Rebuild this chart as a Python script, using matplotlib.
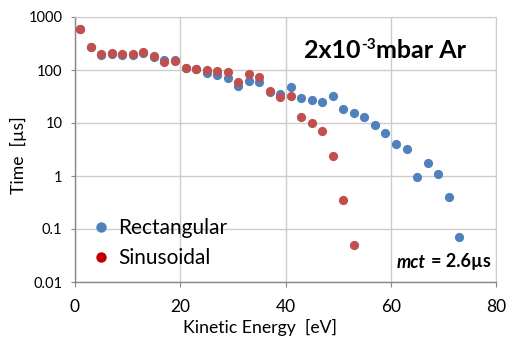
import matplotlib.pyplot as plt
from matplotlib.lines import Line2D
from matplotlib.ticker import FixedLocator, FixedFormatter, NullLocator

plt.rcParams["font.family"] = ["Lato", "DejaVu Sans"]

# Rectangular waveform: kinetic energy [eV] vs time [us]
rect_energy = list(range(1, 75, 2))
rect_time = [586, 268, 192, 198, 192, 192, 210, 178, 155, 155,
             111, 104, 89, 79, 72, 50, 62, 59, 38, 35,
             48, 29, 27.5, 25, 32, 18.6, 15.7, 12.8, 9.3, 6.5,
             4.1, 3.2, 0.97, 1.76, 1.08, 0.41, 0.071]

# Sinusoidal waveform
sin_energy = list(range(1, 55, 2))
sin_time = [586, 268, 200, 206, 200, 200, 219, 186, 140, 150,
            111, 104, 99, 94, 90, 60, 84, 73, 40, 31,
            32, 13.2, 9.9, 7.0, 2.4, 0.36, 0.05]

y_ticks = [0.01, 0.1, 1, 10, 100, 1000]
y_labels = ["0.01", "0.1", "1", "10", "100", "1000"]
x_ticks = [0, 20, 40, 60, 80]

blue = "#4F81BD"
red = "#C0504D"

W, H = 508, 342


def fx(px):
    return px / W


def fy(py):
    return 1 - py / H


fig = plt.figure(figsize=(W / 100, H / 100), dpi=100)
ax = fig.add_axes([fx(75), fy(282), 421 / W, 265 / H])

ax.scatter(rect_energy, rect_time, s=44, color=blue, zorder=3, linewidths=0)
ax.scatter(sin_energy, sin_time, s=44, color=red, zorder=4, linewidths=0)

ax.set_yscale("log")
ax.set_ylim(0.01, 1000)
ax.set_xlim(0, 80)
ax.yaxis.set_major_locator(FixedLocator(y_ticks))
ax.yaxis.set_major_formatter(FixedFormatter(y_labels))
ax.yaxis.set_minor_locator(NullLocator())
ax.set_xticks(x_ticks)

ax.grid(True, color="#CCCCCC", linewidth=1.0, zorder=0)
ax.set_axisbelow(True)
for side in ["top", "right"]:
    ax.spines[side].set_color("#CCCCCC")
for side in ["left", "bottom"]:
    ax.spines[side].set_color("#868686")
    ax.spines[side].set_linewidth(1.0)
ax.tick_params(axis="y", labelsize=10.5, color="#868686", length=3, pad=6)
ax.tick_params(axis="x", labelsize=12.5, color="#868686", length=3.5, pad=9)

ax.set_xlabel("Kinetic Energy  [eV]", fontsize=12.7)
ax.xaxis.set_label_coords((260 - 75) / 421, -(319 - 282) / 265)
ax.set_ylabel("Time  [µs]", fontsize=12.7)
ax.yaxis.set_label_coords(-(75 - 27) / 421, (282 - 155) / 265)

# title "2x10^-3 mbar Ar" built from pieces
t1 = fig.text(fx(304), fy(62), "2x10", fontsize=18, fontweight="bold",
              ha="left", va="bottom")
t2 = ax.annotate("-3", xy=(1, 0), xycoords=t1, xytext=(0.5, 7),
                 textcoords="offset points", fontsize=11, fontweight="bold",
                 ha="left", va="bottom")
ax.annotate("mbar Ar", xy=(1, 0), xycoords=(t2, t1), xytext=(0, 0),
            textcoords="offset points", fontsize=18, fontweight="bold",
            ha="left", va="bottom")

t3 = fig.text(fx(491), fy(262), "= 2.6µs", fontsize=13, fontweight="bold",
              ha="right", va="center")
ax.annotate("mct", xy=(0, 0.5), xycoords=t3, xytext=(-4, 0),
            textcoords="offset points", fontsize=13, fontweight="bold",
            fontstyle="italic", ha="right", va="center")

handles = [
    Line2D([], [], linestyle="none", marker="o", markersize=7.5,
           markerfacecolor=blue, markeredgewidth=0, label="Rectangular"),
    Line2D([], [], linestyle="none", marker="o", markersize=7.5,
           markerfacecolor="#C00000", markeredgewidth=0, label="Sinusoidal"),
]
fig.legend(handles=handles, loc="center left",
           bbox_to_anchor=(fx(94.5), fy(243)), bbox_transform=fig.transFigure,
           frameon=False, fontsize=15, handlelength=0.6, handletextpad=0.55,
           labelspacing=0.5, borderpad=0, borderaxespad=0)

fig.savefig("out.png", dpi=100)
